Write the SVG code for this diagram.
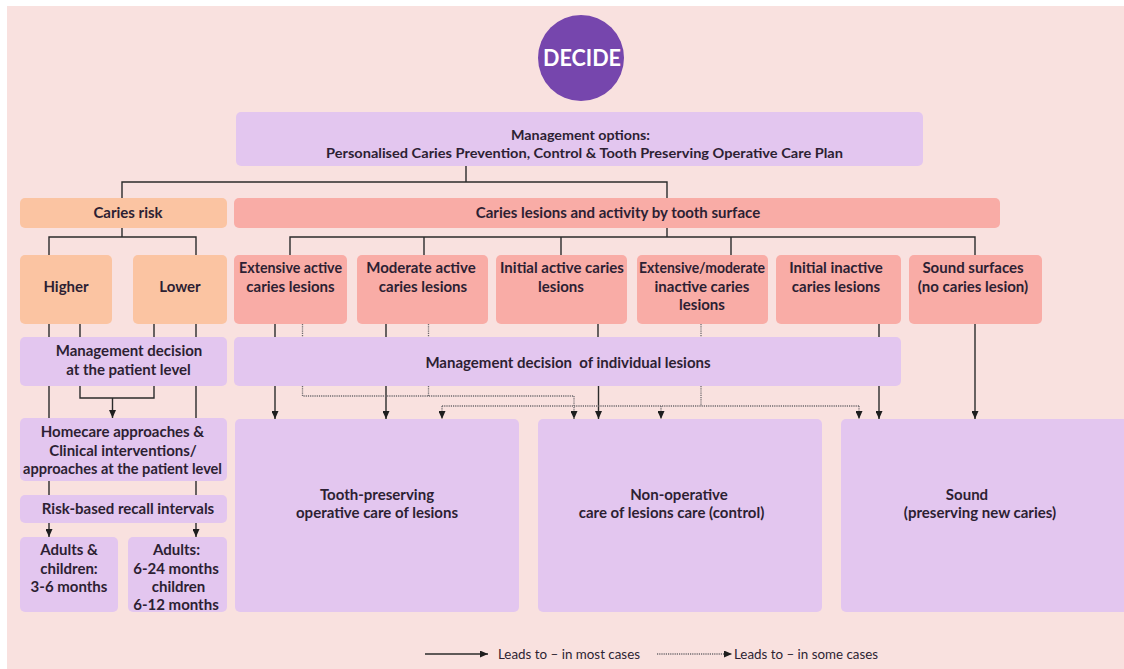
<svg xmlns="http://www.w3.org/2000/svg" width="1124" height="669" viewBox="0 0 1124 669">
<style>
.t{font-family:Lato,"Open Sans","Liberation Sans",sans-serif;font-weight:700;font-size:15px;fill:#2d1f33;text-anchor:middle}
.m{font-size:14px}
.lg{font-family:Lato,"Open Sans","Liberation Sans",sans-serif;font-weight:400;font-size:13px;fill:#2d1f33}
.lav{fill:#e3c6ef}
.pch{fill:#fbc4a2}
.sal{fill:#f9aca6}
.ln{fill:none;stroke:#2b2b2b;stroke-width:1.4}
.dt{fill:none;stroke:#6e6a6e;stroke-width:1.3;stroke-dasharray:1.2 1}
.ar{marker-end:url(#ah)}
</style>
<defs>
<marker id="ah" viewBox="0 0 8 7" refX="8" refY="3.5" markerWidth="8" markerHeight="7" orient="auto" markerUnits="userSpaceOnUse"><path d="M0,0 L8,3.5 L0,7 z" fill="#1e1e1e"/></marker>
</defs>
<rect x="0" y="0" width="1124" height="669" fill="#ffffff"/>
<rect x="7" y="6" width="1117" height="663" fill="#f9e1df"/>

<g id="decide">
<circle cx="581" cy="58" r="43" fill="#7646ad"/>
<text x="582" y="65.5" class="t" style="font-size:22px;fill:#ffffff" textLength="78" lengthAdjust="spacingAndGlyphs">DECIDE</text>
</g>
<g id="management-options">
<rect x="236" y="112" width="687" height="54" rx="5" class="lav"/>
<text x="580.5" y="139.5" class="t m" textLength="139" lengthAdjust="spacingAndGlyphs">Management options:</text>
<text x="584.5" y="158" class="t m" textLength="517" lengthAdjust="spacingAndGlyphs">Personalised Caries Prevention, Control &amp; Tooth Preserving Operative Care Plan</text>
</g>
<g id="caries-risk">
<rect x="20" y="198" width="207" height="30" rx="5" class="pch"/>
<text x="128" y="218" class="t">Caries risk</text>
</g>
<g id="caries-lesions">
<rect x="234" y="198" width="766" height="30" rx="5" class="sal"/>
<text x="618" y="218" class="t">Caries lesions and activity by tooth surface</text>
</g>
<g id="higher">
<rect x="20" y="255" width="92" height="69" rx="5" class="pch"/>
<text x="66" y="292" class="t">Higher</text>
</g>
<g id="lower">
<rect x="133" y="255" width="94" height="69" rx="5" class="pch"/>
<text x="180" y="292" class="t">Lower</text>
</g>
<g id="extensive-active">
<rect x="234" y="255" width="113" height="69" rx="5" class="sal"/>
<text x="290.5" y="273" class="t" textLength="103" lengthAdjust="spacingAndGlyphs">Extensive active</text>
<text x="290.5" y="292" class="t">caries lesions</text>
</g>
<g id="moderate-active">
<rect x="357" y="255" width="131" height="69" rx="5" class="sal"/>
<text x="421" y="273" class="t">Moderate active</text>
<text x="423" y="292" class="t">caries lesions</text>
</g>
<g id="initial-active">
<rect x="496" y="255" width="131" height="69" rx="5" class="sal"/>
<text x="562" y="273" class="t">Initial active caries</text>
<text x="561" y="292" class="t">lesions</text>
</g>
<g id="extensive-moderate-inactive">
<rect x="637" y="255" width="131" height="69" rx="5" class="sal"/>
<text x="702" y="273" class="t" textLength="126" lengthAdjust="spacingAndGlyphs">Extensive/moderate</text>
<text x="702" y="292" class="t">inactive caries</text>
<text x="702" y="310" class="t">lesions</text>
</g>
<g id="initial-inactive">
<rect x="776" y="255" width="125" height="69" rx="5" class="sal"/>
<text x="836" y="273" class="t">Initial inactive</text>
<text x="836" y="292" class="t">caries lesions</text>
</g>
<g id="sound-surfaces">
<rect x="909" y="255" width="133" height="69" rx="5" class="sal"/>
<text x="973" y="273" class="t">Sound surfaces</text>
<text x="973" y="292" class="t">(no caries lesion)</text>
</g>
<g id="mgmt-patient">
<rect x="20" y="337" width="207" height="49" rx="5" class="lav"/>
<text x="129" y="356" class="t">Management decision</text>
<text x="128.5" y="375" class="t">at the patient level</text>
</g>
<g id="mgmt-lesions">
<rect x="234" y="337" width="667" height="49" rx="5" class="lav"/>
<text x="568" y="368" class="t" xml:space="preserve">Management decision  of individual lesions</text>
</g>
<g id="homecare">
<rect x="20" y="418" width="207" height="63" rx="5" class="lav"/>
<text x="122.5" y="437" class="t">Homecare approaches &amp;</text>
<text x="123" y="455.5" class="t">Clinical interventions/</text>
<text x="122.5" y="474" class="t" textLength="199" lengthAdjust="spacingAndGlyphs">approaches at the patient level</text>
</g>
<g id="recall">
<rect x="20" y="495" width="207" height="28" rx="5" class="lav"/>
<text x="128" y="514" class="t">Risk-based recall intervals</text>
</g>
<g id="adults-children">
<rect x="20" y="537" width="98" height="75" rx="5" class="lav"/>
<text x="69" y="555" class="t">Adults &amp;</text>
<text x="69" y="573.5" class="t">children:</text>
<text x="69" y="592" class="t">3-6 months</text>
</g>
<g id="adults">
<rect x="128" y="537" width="99" height="75" rx="5" class="lav"/>
<text x="176.5" y="555" class="t">Adults:</text>
<text x="176" y="573.5" class="t">6-24 months</text>
<text x="178.5" y="592" class="t">children</text>
<text x="176" y="610" class="t">6-12 months</text>
</g>
<g id="tooth-preserving">
<rect x="235" y="419" width="284" height="193" rx="5" class="lav"/>
<text x="377" y="500" class="t">Tooth-preserving</text>
<text x="377" y="518" class="t">operative care of lesions</text>
</g>
<g id="non-operative">
<rect x="538" y="419" width="284" height="193" rx="5" class="lav"/>
<text x="679" y="500" class="t">Non-operative</text>
<text x="671.5" y="518" class="t">care of lesions care (control)</text>
</g>
<g id="sound">
<rect x="841" y="419" width="290" height="193" rx="5" class="lav"/>
<text x="967" y="500" class="t">Sound</text>
<text x="980" y="518" class="t">(preserving new caries)</text>
</g>

<g id="connectors">
<path class="ln" d="M466,166 V182 M122,198 V182 H667 V198"/>
<path class="ln" d="M122,228 V237 M49,255 V237 H196 V255"/>
<path class="ln" d="M667,228 V237 M290,255 V237 H975 V255 M424,237 V255 M561,237 V255 M731,237 V255"/>
<path class="ln" d="M49,324 V337 M80,324 V337 M154,324 V337 M196,324 V337"/>
<path class="ln" d="M49,386 V418 M196,386 V418 M80,386 V398 H154 V386"/>
<path class="ln ar" d="M112.5,398 V418"/>
<path class="ln" d="M49,481 V495 M196,481 V495"/>
<path class="ln ar" d="M49,523 V537"/>
<path class="ln ar" d="M196,523 V537"/>
<path class="ln" d="M275,324 V337 M386,324 V337 M598,324 V337 M879,324 V337"/>
<path class="dt" d="M302.5,324 V337 M428.5,324 V337 M701,324 V337"/>
<path class="ln ar" d="M275,386 V419"/>
<path class="ln ar" d="M386,386 V419"/>
<path class="ln ar" d="M598.5,386 V419"/>
<path class="ln ar" d="M879,386 V419"/>
<path class="ln ar" d="M975,324 V419"/>
<path class="dt" d="M302.5,386 V396 H574 M428.5,386 V396"/>
<path class="dt ar" d="M574,396 V419"/>
<path class="dt" d="M701,386 V406 M442,406 H859"/>
<path class="dt ar" d="M442,406 V419"/>
<path class="dt ar" d="M661,406 V419"/>
<path class="dt ar" d="M859,406 V419"/>
</g>

<g id="legend">
<path class="ln ar" d="M425,654 H488"/>
<text x="498" y="658.5" class="lg" textLength="142" lengthAdjust="spacingAndGlyphs">Leads to – in most cases</text>
<path class="dt ar" d="M657,654 H732"/>
<text x="734" y="658.5" class="lg" textLength="144" lengthAdjust="spacingAndGlyphs">Leads to – in some cases</text>
</g>
</svg>
